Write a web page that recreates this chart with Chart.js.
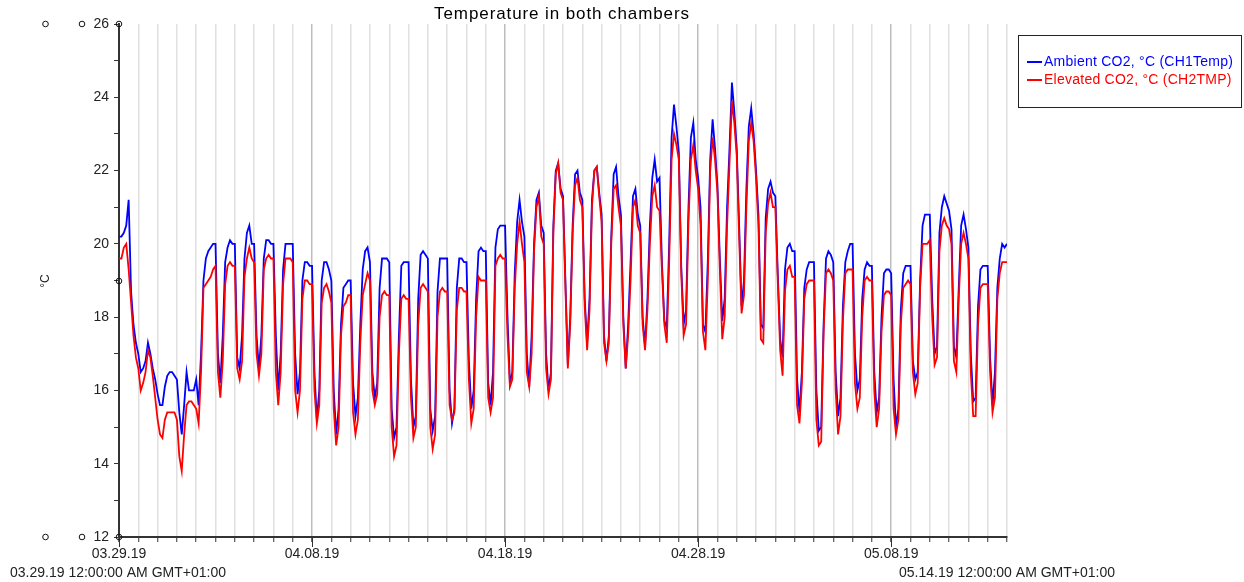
<!DOCTYPE html>
<html>
<head>
<meta charset="utf-8">
<script src="https://cdn.jsdelivr.net/npm/chart.js@4.4.1/dist/chart.umd.min.js"></script>
<style>
  html, body { margin: 0; padding: 0; background: #fff; }
  #wrap { width: 1244px; height: 582px; }
</style>
</head>
<body>
<div id="wrap"><canvas id="chart" width="1244" height="582"></canvas></div>
<script>
// Chamber temperatures, one reading every 3 hours starting 03.29.19 00:00 (8 per day)
const ambientCO2 = [
  20.2, 20.2, 20.3, 20.5, 21.2, 18.7, 17.8, 17.3,  // 03.29
  17.0, 16.5, 16.6, 16.8, 17.3, 17.0, 16.6, 16.3,
  15.9, 15.6, 15.6, 16.1, 16.4, 16.5, 16.5, 16.4,
  16.3, 15.4, 14.8, 15.6, 16.5, 16.0, 16.0, 16.0,
  16.3, 15.6, 17.0, 19.0, 19.6, 19.8, 19.9, 20.0,
  20.0, 17.0, 16.2, 17.5, 19.5, 19.9, 20.1, 20.0,
  20.0, 16.9, 16.6, 17.5, 19.6, 20.3, 20.5, 20.0,
  20.0, 17.5, 16.6, 17.5, 19.6, 20.1, 20.1, 20.0,
  20.0, 17.5, 16.0, 17.0, 19.3, 20.0, 20.0, 20.0,
  20.0, 17.0, 15.9, 16.5, 19.0, 19.5, 19.5, 19.4,
  19.4, 16.5, 15.2, 16.0, 19.0, 19.5, 19.5, 19.3,  // 04.08
  19.0, 16.0, 14.8, 15.5, 17.8, 18.8, 18.9, 19.0,
  19.0, 16.2, 15.3, 15.8, 17.8, 19.3, 19.8, 19.9,
  19.5, 16.5, 15.8, 16.2, 18.8, 19.6, 19.6, 19.6,
  19.5, 15.5, 14.7, 15.0, 17.5, 19.4, 19.5, 19.5,
  19.5, 16.3, 15.0, 15.3, 18.5, 19.7, 19.8, 19.7,
  19.6, 15.5, 14.9, 15.3, 18.7, 19.6, 19.6, 19.6,
  19.6, 16.0, 15.1, 15.5, 18.8, 19.6, 19.6, 19.5,
  19.5, 16.8, 15.5, 16.0, 18.5, 19.8, 19.9, 19.8,
  19.8, 16.2, 15.6, 16.5, 19.9, 20.4, 20.5, 20.5,
  20.5, 18.0, 16.2, 16.5, 19.2, 20.6, 21.2, 20.6,  // 04.18
  20.2, 17.0, 16.1, 17.5, 20.0, 21.2, 21.4, 20.5,
  20.3, 17.0, 16.0, 16.5, 20.5, 22.0, 22.2, 21.5,
  21.3, 19.0, 16.7, 18.0, 20.5, 21.9, 22.0, 21.4,
  21.2, 18.5, 17.3, 18.5, 21.2, 22.0, 22.1, 21.4,
  20.8, 17.5, 16.8, 17.5, 20.2, 21.9, 22.1, 21.3,
  20.8, 18.0, 16.6, 17.8, 19.5, 21.3, 21.5, 20.8,
  20.5, 18.0, 17.2, 18.5, 20.5, 21.8, 22.3, 21.7,
  21.8, 19.5, 17.9, 17.7, 20.0, 22.9, 23.8, 23.2,
  22.5, 19.4, 17.8, 18.2, 21.0, 22.9, 23.3, 22.3,
  21.8, 21.0, 17.8, 17.6, 19.5, 22.3, 23.4, 22.6,  // 04.28
  21.6, 19.6, 17.9, 18.5, 21.0, 22.6, 24.4, 23.6,
  22.6, 20.5, 18.3, 19.0, 21.5, 23.2, 23.7, 23.0,
  22.0, 20.8, 17.8, 17.7, 20.7, 21.5, 21.7, 21.4,
  21.3, 19.2, 17.4, 16.9, 19.3, 19.9, 20.0, 19.8,
  19.8, 16.3, 15.4, 16.5, 18.8, 19.3, 19.5, 19.5,
  19.5, 16.0, 14.9, 15.0, 17.8, 19.6, 19.8, 19.7,
  19.5, 16.5, 15.3, 15.8, 18.3, 19.5, 19.8, 20.0,
  20.0, 17.0, 16.0, 16.3, 18.5, 19.3, 19.5, 19.4,
  19.4, 16.5, 15.4, 15.8, 18.0, 19.2, 19.3, 19.3,
  19.2, 16.3, 15.0, 15.5, 18.2, 19.2, 19.4, 19.4,  // 05.08
  19.4, 16.8, 16.3, 16.5, 19.0, 20.5, 20.8, 20.8,
  20.8, 18.5, 17.0, 17.2, 20.3, 21.0, 21.3, 21.1,
  20.9, 20.4, 17.2, 16.9, 18.8, 20.5, 20.8, 20.4,
  19.9, 17.0, 15.7, 15.8, 18.3, 19.3, 19.4, 19.4,
  19.4, 16.9, 15.6, 16.5, 18.8, 19.6, 20.0, 19.9,
  20.0                                              // 05.14 00:00
];

const elevatedCO2 = [
  19.6, 19.6, 19.9, 20.0, 19.3, 18.4, 17.5, 16.9,  // 03.29
  16.6, 16.0, 16.2, 16.5, 17.1, 16.9, 16.4, 15.8,
  15.2, 14.8, 14.7, 15.2, 15.4, 15.4, 15.4, 15.4,
  15.2, 14.2, 13.8, 14.8, 15.6, 15.7, 15.7, 15.6,
  15.5, 15.1, 16.5, 18.8, 18.9, 19.0, 19.1, 19.3,
  19.4, 16.5, 15.8, 16.8, 18.9, 19.4, 19.5, 19.4,
  19.4, 16.6, 16.3, 16.8, 19.1, 19.6, 19.9, 19.6,
  19.5, 17.0, 16.4, 17.0, 19.3, 19.6, 19.7, 19.6,
  19.6, 16.5, 15.6, 16.5, 18.9, 19.6, 19.6, 19.6,
  19.5, 16.0, 15.4, 16.0, 18.5, 19.0, 19.0, 18.9,
  18.9, 16.0, 15.1, 15.6, 18.4, 18.8, 18.9, 18.7,  // 04.08
  18.4, 15.5, 14.5, 15.0, 17.5, 18.3, 18.4, 18.6,
  18.6, 15.4, 14.8, 15.2, 17.3, 18.6, 18.9, 19.2,
  19.0, 16.0, 15.6, 15.9, 18.0, 18.6, 18.7, 18.6,
  18.6, 15.0, 14.2, 14.5, 17.0, 18.5, 18.6, 18.5,
  18.5, 15.8, 14.7, 15.0, 17.8, 18.8, 18.9, 18.8,
  18.7, 15.0, 14.4, 14.8, 18.0, 18.7, 18.8, 18.7,
  18.7, 15.6, 15.2, 15.4, 18.2, 18.8, 18.8, 18.7,
  18.7, 16.3, 15.1, 15.5, 18.0, 19.1, 19.0, 19.0,
  19.0, 15.8, 15.4, 15.8, 19.4, 19.6, 19.7, 19.6,
  19.6, 17.5, 16.1, 16.3, 18.8, 20.0, 20.6, 20.0,  // 04.18
  19.5, 16.5, 16.1, 17.0, 19.8, 21.0, 21.3, 20.2,
  20.0, 16.6, 15.9, 16.3, 20.3, 21.9, 22.2, 21.4,
  21.2, 18.8, 16.6, 17.8, 20.3, 21.6, 21.8, 21.2,
  21.0, 18.3, 17.1, 18.2, 21.0, 22.0, 22.1, 21.3,
  20.6, 17.3, 16.8, 17.3, 20.0, 21.5, 21.6, 21.0,
  20.5, 17.8, 16.6, 17.5, 19.0, 21.0, 21.2, 20.5,
  20.3, 17.8, 17.1, 18.2, 20.0, 21.3, 21.6, 21.0,
  20.9, 19.3, 17.8, 17.3, 19.5, 22.3, 23.0, 22.7,
  22.3, 19.2, 17.5, 17.8, 20.6, 22.3, 22.7, 22.0,
  21.5, 20.5, 17.6, 17.1, 19.0, 22.0, 22.9, 22.3,  // 04.28
  21.4, 19.3, 17.4, 18.0, 20.5, 22.2, 23.9, 23.3,
  22.4, 20.2, 18.1, 18.6, 21.0, 22.8, 23.3, 22.8,
  21.8, 20.5, 17.4, 17.3, 20.3, 21.1, 21.4, 21.0,
  21.0, 19.0, 17.1, 16.4, 18.7, 19.3, 19.4, 19.1,
  19.1, 15.6, 15.1, 16.2, 18.5, 18.9, 19.0, 19.0,
  19.0, 15.2, 14.5, 14.6, 17.6, 19.2, 19.3, 19.2,
  19.0, 16.0, 14.8, 15.3, 17.9, 19.2, 19.3, 19.3,
  19.3, 16.2, 15.5, 15.8, 18.0, 19.0, 19.1, 19.0,
  19.0, 16.0, 15.0, 15.5, 17.6, 18.6, 18.7, 18.7,
  18.6, 15.5, 14.8, 15.2, 17.8, 18.8, 18.9, 19.0,  // 05.08
  18.9, 16.5, 15.9, 16.2, 18.8, 20.0, 20.0, 20.0,
  20.1, 18.0, 16.7, 16.9, 19.8, 20.5, 20.7, 20.5,
  20.4, 20.0, 16.8, 16.5, 18.5, 20.0, 20.3, 20.0,
  19.6, 16.5, 15.3, 15.3, 17.8, 18.8, 18.9, 18.9,
  18.9, 16.5, 15.4, 15.8, 18.5, 19.2, 19.5, 19.5,
  19.5                                              // 05.14 00:00
];

const samplesPerDay = 8;
const dayCount = 46;                       // 03.29.19 .. 05.14.19
const dateTickDays = [0, 10, 20, 30, 40];
const dateTickLabels = ['03.29.19', '04.08.19', '04.18.19', '04.28.19', '05.08.19'];
const tempMin = 12;
const tempMax = 26;
const seriesNames = ['Ambient CO2, °C (CH1Temp)', 'Elevated CO2, °C (CH2TMP)'];
const seriesColors = ['#0000ff', '#ff0000'];
const chartTitle = 'Temperature in both chambers';
const unitLabel = '°C';
const startStamp = '03.29.19 12:00:00 AM GMT+01:00';
const endStamp = '05.14.19 12:00:00 AM GMT+01:00';

const FONT = '"Liberation Sans", Arial, Helvetica, sans-serif';

const toPoints = arr => arr.map((t, i) => ({ x: i / samplesPerDay, y: t }));

// Title, legend box, date stamps, axis handles and the longer date ticks
const decorations = {
  id: 'decorations',
  afterDraw(chart) {
    const { ctx, chartArea: a, scales } = chart;
    const xs = scales.x;
    ctx.save();

    // title
    ctx.fillStyle = '#000';
    ctx.font = '17px ' + FONT;
    ctx.textAlign = 'center';
    ctx.textBaseline = 'alphabetic';
    ctx.letterSpacing = '0.9px';
    ctx.fillText(chartTitle, 562, 19);
    ctx.letterSpacing = '0px';

    // longer tick marks under the dated gridlines
    ctx.strokeStyle = '#333';
    ctx.lineWidth = 1;
    dateTickDays.forEach(d => {
      const px = Math.round(xs.getPixelForValue(d)) + 0.5;
      ctx.beginPath();
      ctx.moveTo(px, a.bottom);
      ctx.lineTo(px, a.bottom + 10);
      ctx.stroke();
    });

    // date stamps of the first and last reading
    ctx.fillStyle = '#222';
    ctx.font = '14px ' + FONT;
    ctx.textBaseline = 'middle';
    ctx.textAlign = 'left';
    ctx.fillText(startStamp, 10, 573);
    ctx.textAlign = 'right';
    ctx.fillText(endStamp, 1115, 573);

    // legend box
    ctx.strokeStyle = '#222';
    ctx.lineWidth = 1;
    ctx.strokeRect(1018.5, 35.5, 223, 72);
    ctx.font = '14px ' + FONT;
    ctx.textAlign = 'left';
    ctx.textBaseline = 'middle';
    ctx.letterSpacing = '0.25px';
    [62, 80].forEach((ly, i) => {
      ctx.strokeStyle = seriesColors[i];
      ctx.lineWidth = 2;
      ctx.beginPath();
      ctx.moveTo(1027, ly);
      ctx.lineTo(1042, ly);
      ctx.stroke();
      ctx.fillStyle = seriesColors[i];
      ctx.fillText(seriesNames[i], 1044, ly);
    });
    ctx.letterSpacing = '0px';

    // unit label
    ctx.save();
    ctx.translate(46, 281);
    ctx.rotate(-Math.PI / 2);
    ctx.fillStyle = '#222';
    ctx.font = '12px ' + FONT;
    ctx.textAlign = 'center';
    ctx.textBaseline = 'middle';
    ctx.fillText(unitLabel, 0, 0);
    ctx.restore();

    // small axis handles
    ctx.strokeStyle = '#111';
    ctx.lineWidth = 1;
    const handles = [
      [45.5, a.top], [82, a.top], [a.left, a.top],
      [a.left, 281],
      [45.5, a.bottom], [82, a.bottom], [a.left, a.bottom]
    ];
    handles.forEach(([hx, hy]) => {
      ctx.beginPath();
      ctx.arc(hx, hy, 2.8, 0, Math.PI * 2);
      ctx.stroke();
    });

    ctx.restore();
  }
};

new Chart(document.getElementById('chart'), {
  type: 'line',
  data: {
    datasets: [
      {
        label: seriesNames[0],
        data: toPoints(ambientCO2),
        borderColor: seriesColors[0],
        borderWidth: 1.8,
        pointRadius: 0,
        tension: 0,
        order: 2
      },
      {
        label: seriesNames[1],
        data: toPoints(elevatedCO2),
        borderColor: seriesColors[1],
        borderWidth: 1.8,
        pointRadius: 0,
        tension: 0,
        order: 1
      }
    ]
  },
  options: {
    responsive: false,
    animation: false,
    devicePixelRatio: 1,
    layout: { padding: { top: 24, right: 237, left: 0, bottom: 0 } },
    plugins: {
      legend: { display: false },
      title: { display: false },
      tooltip: { enabled: false }
    },
    scales: {
      x: {
        type: 'linear',
        min: 0,
        max: dayCount,
        afterFit: s => { s.height = 45; },
        border: { display: true, color: '#333', width: 2 },
        grid: {
          color: c => dateTickDays.includes(c.tick && c.tick.value) ? '#bdbdbd' : '#e0e0e0',
          lineWidth: 1.5,
          tickColor: '#333',
          tickLength: 5,
          tickWidth: 1
        },
        ticks: {
          stepSize: 1,
          autoSkip: false,
          maxRotation: 0,
          minRotation: 0,
          padding: 4,
          color: '#222',
          font: { family: FONT, size: 14 },
          callback: v => {
            const k = dateTickDays.indexOf(v);
            return k >= 0 ? dateTickLabels[k] : '';
          }
        }
      },
      y: {
        min: tempMin,
        max: tempMax,
        afterFit: s => { s.width = 119; },
        border: { display: true, color: '#333', width: 2 },
        grid: {
          drawOnChartArea: false,
          tickColor: '#333',
          tickLength: 5,
          tickWidth: 1
        },
        ticks: {
          stepSize: 1,
          padding: 5,
          color: '#222',
          font: { family: FONT, size: 14 },
          callback: v => (v % 2 === 0 ? String(v) : '')
        }
      }
    }
  },
  plugins: [decorations]
});
</script>
</body>
</html>
